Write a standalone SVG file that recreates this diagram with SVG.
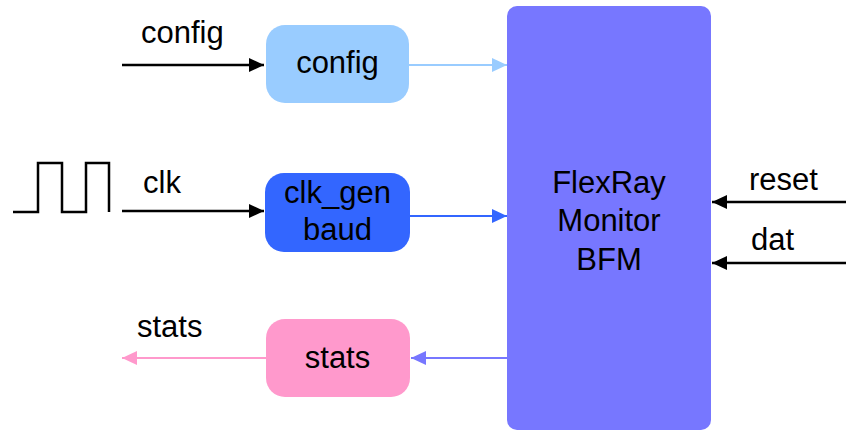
<svg xmlns="http://www.w3.org/2000/svg" width="846" height="433" viewBox="0 0 846 433">
  <style>
    text { font-family: "Liberation Sans", Arial, sans-serif; font-size: 31px; fill: #000; }
    .mid { text-anchor: middle; }
    .blk { stroke: #000; stroke-width: 2.5; fill: none; }
    .wire { fill: none; stroke-width: 2; }
  </style>
  <defs>
    <marker id="ah-black" viewBox="0 0 15 14" markerWidth="15" markerHeight="14" refX="15" refY="7" markerUnits="userSpaceOnUse" orient="auto">
      <path d="M0 0 L15 7 L0 14 Z" fill="#000"/>
    </marker>
    <marker id="ah-lblue" viewBox="0 0 15 14" markerWidth="15" markerHeight="14" refX="15" refY="7" markerUnits="userSpaceOnUse" orient="auto">
      <path d="M0 0 L15 7 L0 14 Z" fill="#99ccff"/>
    </marker>
    <marker id="ah-blue" viewBox="0 0 15 14" markerWidth="15" markerHeight="14" refX="15" refY="7" markerUnits="userSpaceOnUse" orient="auto">
      <path d="M0 0 L15 7 L0 14 Z" fill="#3366ff"/>
    </marker>
    <marker id="ah-purple" viewBox="0 0 15 14" markerWidth="15" markerHeight="14" refX="15" refY="7" markerUnits="userSpaceOnUse" orient="auto">
      <path d="M0 0 L15 7 L0 14 Z" fill="#7777ff"/>
    </marker>
    <marker id="ah-pink" viewBox="0 0 15 14" markerWidth="15" markerHeight="14" refX="15" refY="7" markerUnits="userSpaceOnUse" orient="auto">
      <path d="M0 0 L15 7 L0 14 Z" fill="#ff99cc"/>
    </marker>
  </defs>
  <rect width="846" height="433" fill="#fff"/>

  <g id="connectors">
    <path class="blk" d="M122 65 H264" marker-end="url(#ah-black)"/>
    <path class="wire" stroke="#99ccff" d="M409 65 H507" marker-end="url(#ah-lblue)"/>
    <path class="blk" d="M122 211 H264" marker-end="url(#ah-black)"/>
    <path class="wire" stroke="#3366ff" d="M410 216 H507" marker-end="url(#ah-blue)"/>
    <path class="wire" stroke="#7777ff" d="M507 358 H411" marker-end="url(#ah-purple)"/>
    <path class="wire" stroke="#ff99cc" d="M266 358 H122" marker-end="url(#ah-pink)"/>
    <path class="blk" d="M846 202 H712" marker-end="url(#ah-black)"/>
    <path class="blk" d="M846 263 H712" marker-end="url(#ah-black)"/>
  </g>

  <g id="clock-wave">
    <path class="blk" d="M13 212 H38 V163 H62 V212 H86 V163 H109 V212"/>
  </g>

  <g id="labels">
    <text x="141" y="43">config</text>
    <text x="143" y="193">clk</text>
    <text x="137" y="337">stats</text>
    <text x="749" y="190">reset</text>
    <text x="751" y="250">dat</text>
  </g>

  <g id="config">
    <rect x="266" y="25" width="143" height="78" rx="19" fill="#99ccff"/>
    <text class="mid" x="337.5" y="73">config</text>
  </g>

  <g id="clk_gen">
    <rect x="265" y="173" width="145" height="79" rx="19" fill="#3366ff"/>
    <text class="mid" x="337.5" y="203">clk_gen</text>
    <text class="mid" x="337.5" y="240">baud</text>
  </g>

  <g id="stats">
    <rect x="266" y="319" width="144" height="78" rx="19" fill="#ff99cc"/>
    <text class="mid" x="337.5" y="368">stats</text>
  </g>

  <g id="bfm">
    <rect x="507" y="6" width="204" height="424" rx="10" fill="#7777ff"/>
    <text class="mid" x="609" y="193">FlexRay</text>
    <text class="mid" x="609" y="231">Monitor</text>
    <text class="mid" x="609" y="270">BFM</text>
  </g>
</svg>
